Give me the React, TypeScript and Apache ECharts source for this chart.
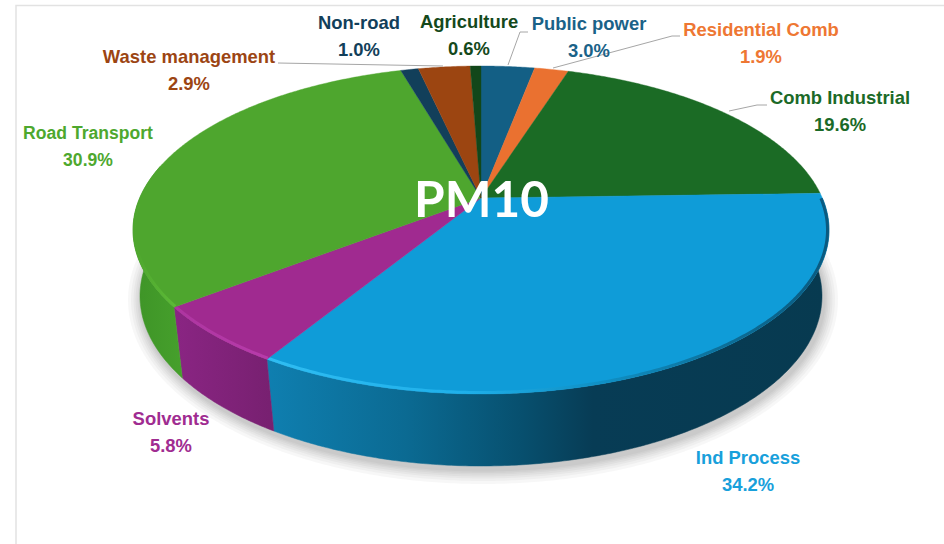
import React, { useEffect, useRef } from "react";
import * as echarts from "echarts";

const categories = ["Public power", "Residential Comb", "Comb Industrial", "Ind Process", "Solvents", "Road Transport", "Non-road", "Waste management", "Agriculture"];
const shares = [3.0, 1.9, 19.6, 34.2, 5.8, 30.9, 1.0, 2.9, 0.6];
const topColors = ["#135f85", "#ea7130", "#1b6b25", "#0f9cd8", "#a02a90", "#4ea62e", "#123f5a", "#9c4511", "#12471a"];
const labelColors = ["#1a6288", "#ee7733", "#1b6a27", "#18a0db", "#a02c91", "#4ea82e", "#123f5a", "#9c4513", "#14491b"];
const labelCentres = [[589, 23], [761, 29], [840, 97], [748, 457], [171, 418], [88, 132], [359, 22], [189, 56], [469, 21]];
const labelSqueeze = [0.97, 0.97, 0.97, 0.97, 0.97, 0.925, 0.97, 0.97, 0.97];
const leaderLines = [
  [[528, 32], [520, 32], [508, 65]],
  [[680, 36], [672, 36], [553, 68]],
  [[767, 105], [757, 105], [729, 111]],
  [[278, 63], [443, 66]],
];
const title = "PM10";

const TOP = { cx: 481, cy: 230, rx: 348, ry: 164, a: -0.195 };
const RIM = { cx: 481, cy: 230, rx: 346.5, ry: 162.5, a: -0.195 };
const BOTTOM = { cx: 481, cy: 296, rx: 341, ry: 170, a: -0.18 };
const FRONT: [number, number] = [90, 282];
const RIM_END = 268;
const SHADOW_LAYERS = [14, 11, 8.5, 6.5, 4.5, 3, 1.5];
const sideStops: Record<number, any> = {
  3: [[0, "#0f7fb0"], [0.25, "#0b6a92"], [0.45, "#07506f"], [0.58, "#073c55"], [1, "#073a50"]],
  4: [[0, "#8a2583"], [1, "#772070"]],
  5: [[0, "#3e9427"], [1, "#46a02c"]],
};
const rimStops: Record<number, any> = {
  3: [[0, "#2fbdf2"], [0.35, "#1fb0ea"], [0.6, "#0f8fc4"], [0.85, "#0c6a92"], [1, "#0a5a80"]],
  4: [[0, "#ad35a0"], [1, "#b83bab"]],
  5: [[0, "#4ea62e"], [1, "#5cba36"]],
};

function project(deg: number, e: typeof TOP): [number, number] {
  const t = (deg * Math.PI) / 180;
  const u = Math.sin(t);
  const v = -Math.cos(t);
  const d = 1 + e.a * v;
  return [e.cx + (e.rx * u * Math.sqrt(1 - e.a * e.a)) / d, e.cy + (e.ry * (v + e.a)) / d];
}
function arc(from: number, to: number, e: typeof TOP) {
  const out: [number, number][] = [];
  const n = Math.max(2, Math.ceil(Math.abs(to - from) * 2));
  for (let i = 0; i <= n; i++) out.push(project(from + ((to - from) * i) / n, e));
  return out;
}
function range(i: number): [number, number] {
  const total = shares.reduce((s, v) => s + v, 0);
  const before = shares.slice(0, i).reduce((s, v) => s + v, 0);
  return [(before / total) * 360, ((before + shares[i]) / total) * 360];
}
function clipRange(i: number, lo: number, hi: number): [number, number] | null {
  const [s, e] = range(i);
  const a = Math.max(s, lo);
  const b = Math.min(e, hi);
  return b > a ? [a, b] : null;
}
function xSpan(pts: [number, number][]) {
  const xs = pts.map((p) => p[0]);
  return [Math.min(...xs), Math.max(...xs)];
}

export default function App() {
  const ref = useRef<HTMLDivElement>(null);
  useEffect(() => {
    document.body.style.margin = "0";
    const chart = echarts.init(ref.current!, null, { renderer: "svg" });
    const data = shares.map((v, i) => ({ name: categories[i], value: v }));
    const graphic: any[] = [
      { type: "polyline", silent: true, z: 1, shape: { points: [[16, 544], [16, 5.5], [944, 5.5]] }, style: { stroke: "#e2e2e2", lineWidth: 1.5, fill: "none" } },
    ];
    leaderLines.forEach((pts) => graphic.push({ type: "polyline", silent: true, z: 20, shape: { points: pts }, style: { stroke: "#a6a6a6", lineWidth: 1, fill: "none" } }));
    categories.forEach((name, i) => {
      graphic.push({
        type: "text", silent: true, z: 30, x: labelCentres[i][0], y: labelCentres[i][1], scaleX: labelSqueeze[i],
        style: {
          text: `${name}\n${shares[i].toFixed(1)}%`, fill: labelColors[i], align: "center", verticalAlign: "top",
          font: 'bold 19px "Liberation Sans"', lineHeight: 27, y: -13,
        },
      });
    });
    graphic.push({ type: "text", silent: true, z: 40, x: 481.5, y: 198, style: { text: title, fill: "#ffffff", align: "center", verticalAlign: "middle", font: 'bold 49.5px Lato' } });

    chart.setOption({
      animation: false,
      graphic,
      series: [
        {
          type: "custom", coordinateSystem: "none", silent: true, z: 2, data: [0],
          renderItem: () => ({
            type: "group",
            children: SHADOW_LAYERS.map((g) => ({
              type: "polygon",
              shape: { points: arc(0, 360, { ...BOTTOM, cx: BOTTOM.cx + 2, cy: BOTTOM.cy + 4, rx: BOTTOM.rx + g, ry: BOTTOM.ry + g }) },
              style: { fill: "rgba(0,0,0,0.03)" },
            })),
          }),
        },
        {
          type: "custom", coordinateSystem: "none", silent: true, z: 3, data,
          renderItem: (p: any) => {
            const fr = clipRange(p.dataIndex, FRONT[0], FRONT[1]);
            if (!fr) return null;
            const upper = arc(fr[0], fr[1], TOP);
            const lower = arc(fr[0], fr[1], BOTTOM).reverse();
            const all = [...upper, ...lower];
            const [x0, x1] = xSpan(all);
            const stops = (sideStops[p.dataIndex] || []).map((s: any) => ({ offset: s[0], color: s[1] }));
            const fill = new echarts.graphic.LinearGradient(x0, 0, x1, 0, stops, true);
            return { type: "polygon", shape: { points: all }, style: { fill, stroke: fill, lineWidth: 0.5 } };
          },
        },
        {
          type: "custom", coordinateSystem: "none", silent: true, z: 4, data,
          renderItem: (p: any) => {
            const [s, e] = range(p.dataIndex);
            const centre: [number, number] = [TOP.cx, TOP.cy + TOP.ry * TOP.a];
            const pts = [centre, ...arc(s, e, TOP)];
            const children: any[] = [{ type: "polygon", shape: { points: pts }, style: { fill: topColors[p.dataIndex], stroke: topColors[p.dataIndex], lineWidth: 0.4 } }];
            const fr = clipRange(p.dataIndex, FRONT[0], RIM_END);
            if (fr) {
              const rim = arc(fr[0], fr[1], RIM);
              const [x0, x1] = xSpan(rim);
              const stops = (rimStops[p.dataIndex] || []).map((q: any) => ({ offset: q[0], color: q[1] }));
              children.push({ type: "polyline", shape: { points: rim }, style: { fill: "none", stroke: new echarts.graphic.LinearGradient(x0, 0, x1, 0, stops, true), lineWidth: 3 } });
            }
            return { type: "group", children };
          },
        },
      ],
    });
    return () => chart.dispose();
  }, []);
  return <div ref={ref} style={{ width: 944, height: 544 }} />;
}
